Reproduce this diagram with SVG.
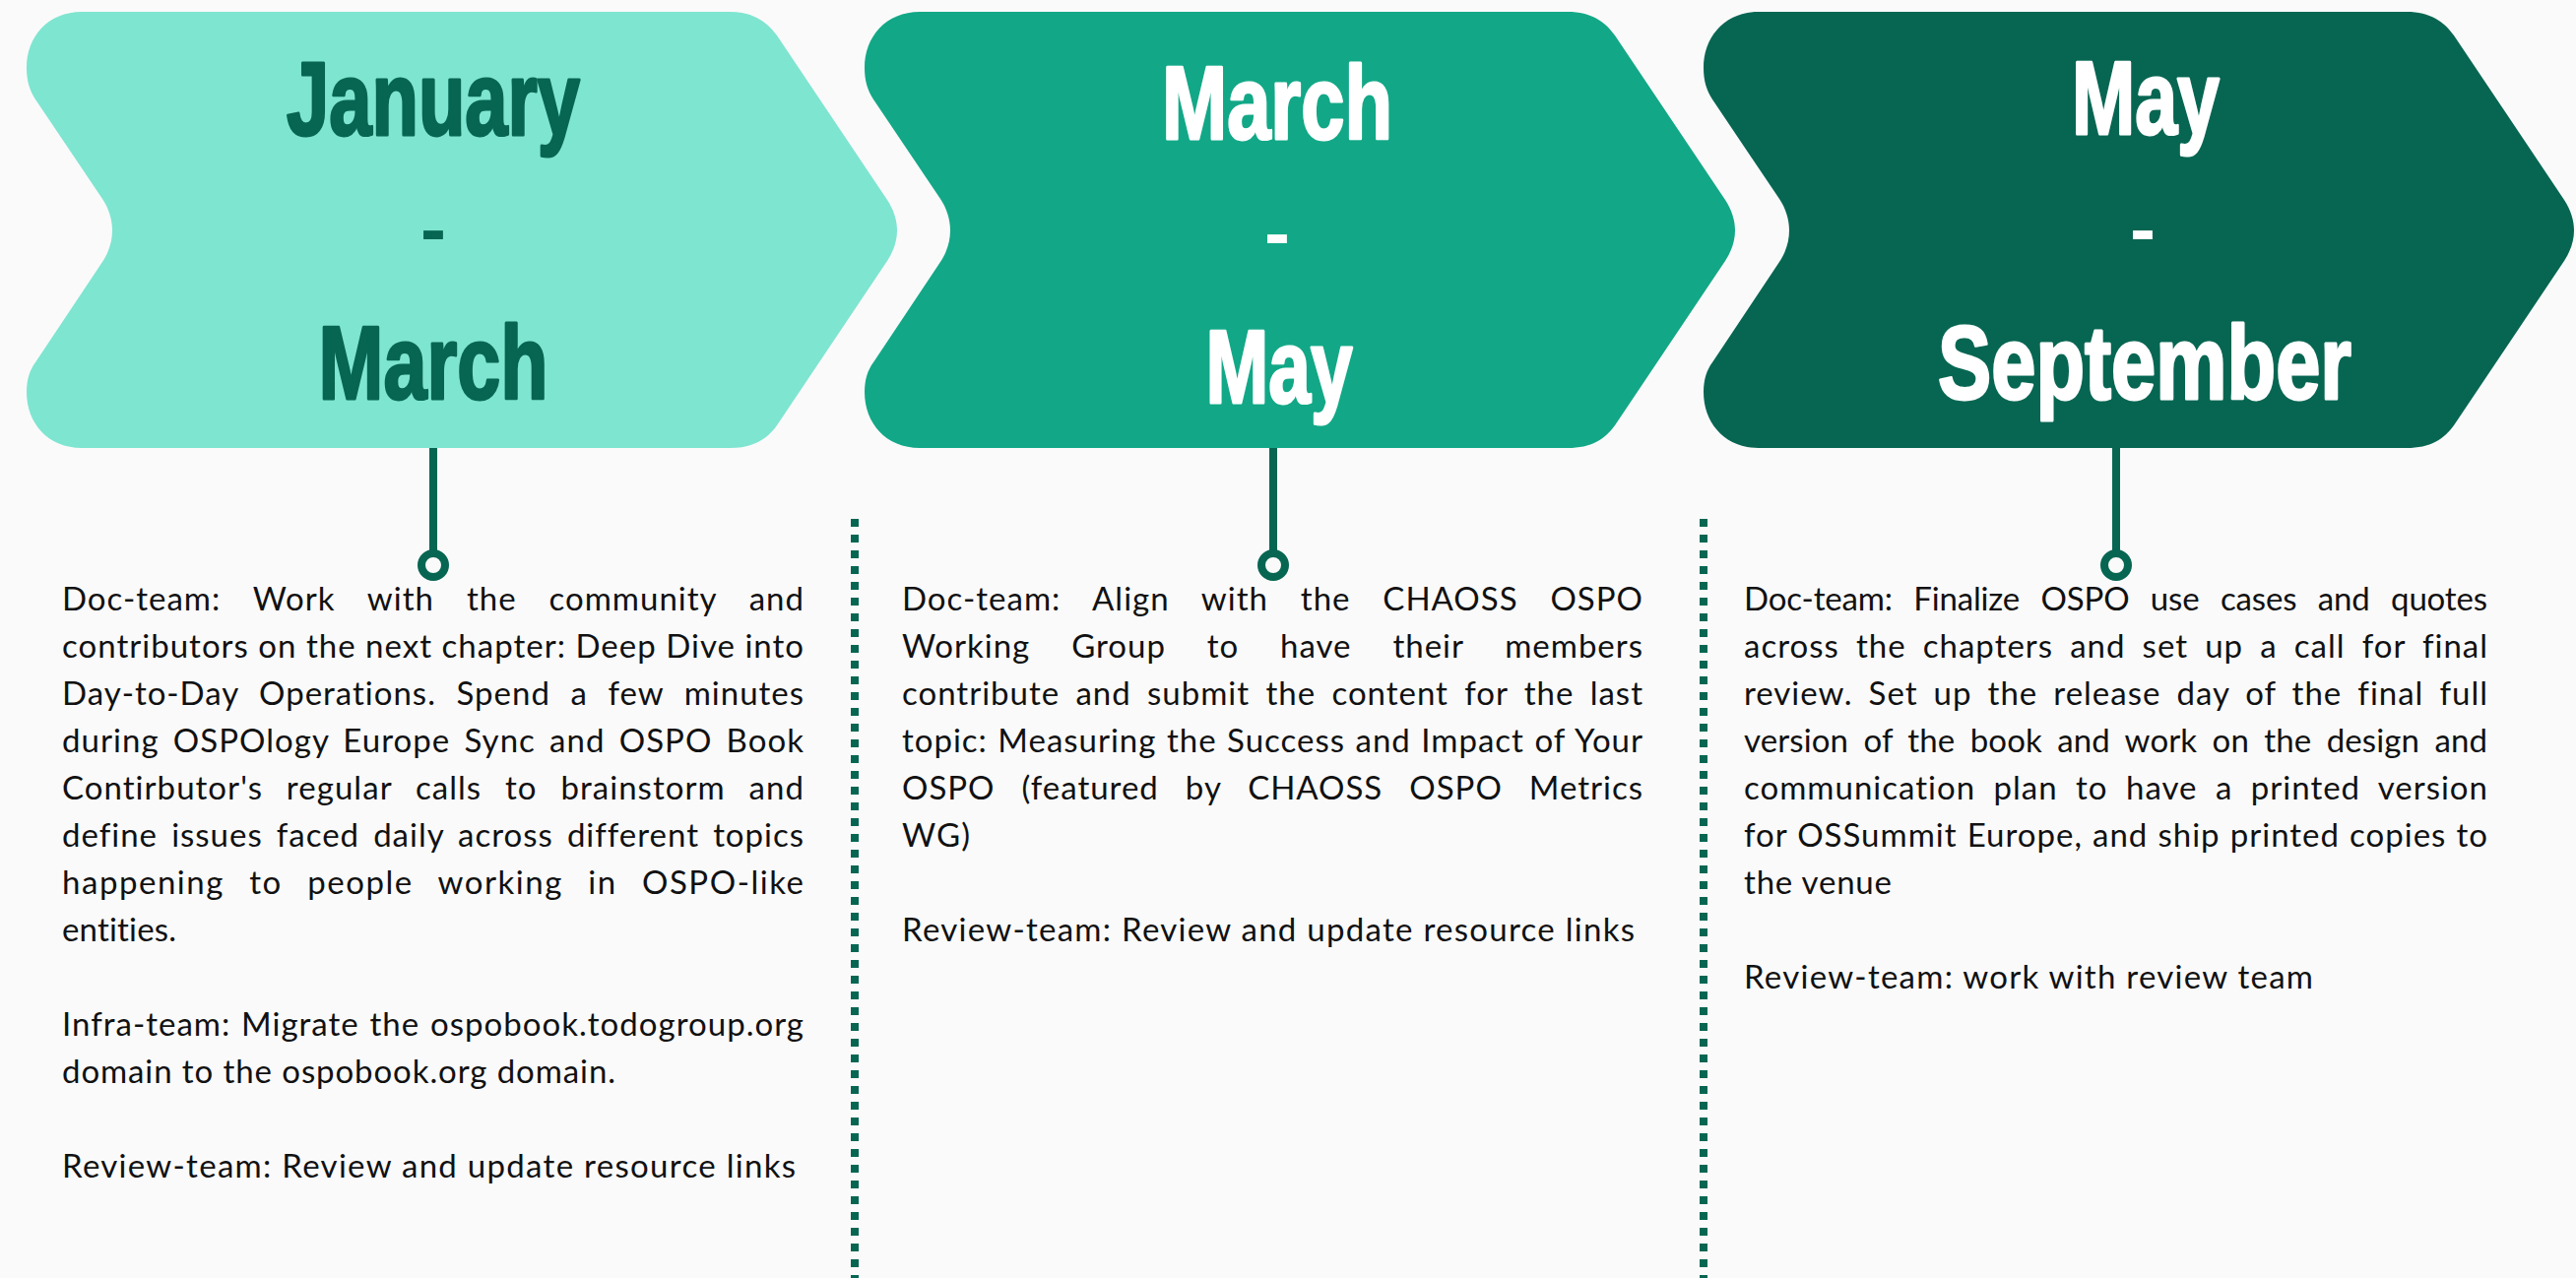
<svg xmlns="http://www.w3.org/2000/svg" width="2616" height="1298" viewBox="0 0 2616 1298">
<defs>
<style>
.bg{fill:#FAFAFA}
.s1{fill:#7EE5D0}.s2{fill:#12A887}.s3{fill:#076652}
.head{font-family:"Liberation Sans",Arial,sans-serif;font-weight:700;font-size:105px;text-anchor:middle;stroke-width:3;stroke-linejoin:round}
.dash{font-family:"Liberation Sans",Arial,sans-serif;font-weight:700;font-size:75px;text-anchor:middle}
.dk{fill:#076652;stroke:#076652}.wh{fill:#FFFFFF;stroke:#FFFFFF}
.dash.dk,.dash.wh{stroke:none}
.body{font-family:Lato,"Noto Sans",sans-serif;font-size:33px;letter-spacing:1px;fill:#111111}
.stem{stroke:#076652;stroke-width:8;fill:none}
.dot{stroke:#076652;stroke-width:8;fill:#FAFAFA}
.sep{stroke:#076652;stroke-width:8;stroke-dasharray:8 8;fill:none}
</style>
<path id="chev" d="M56,0 L714,0 C738,0 752,10 762,24 L874,191 C881,202 884,212 884,222 C884,232 881,242 874,253 L762,420 C752,434 738,443 714,443 L56,443 C22,443 0,418 0,386 C0,374 3,364 9,356 L77,254 C83,245 87,234 87,222 C87,210 83,199 77,190 L9,89 C3,80 0,70 0,57 C0,25 22,0 56,0 Z"/>
</defs>
<rect class="bg" x="0" y="0" width="2616" height="1298"/>

<g id="connectors">
<line class="stem" x1="440" y1="454" x2="440" y2="562"/>
<circle class="dot" cx="440" cy="574" r="12"/>
<line class="stem" x1="1293" y1="454" x2="1293" y2="562"/>
<circle class="dot" cx="1293" cy="574" r="12"/>
<line class="stem" x1="2149" y1="454" x2="2149" y2="562"/>
<circle class="dot" cx="2149" cy="574" r="12"/>
<line class="sep" x1="868" y1="527" x2="868" y2="1300"/>
<line class="sep" x1="1730" y1="527" x2="1730" y2="1300"/>
</g>

<g id="node-jan-mar">
<use href="#chev" class="s1" x="27" y="12"/>
<text class="head dk" x="440" y="137" textLength="298" lengthAdjust="spacingAndGlyphs">January</text>
<text class="dash dk" x="440" y="258" textLength="26" lengthAdjust="spacingAndGlyphs">-</text>
<text class="head dk" x="440" y="405" textLength="233" lengthAdjust="spacingAndGlyphs">March</text>
</g>

<g id="node-mar-may">
<use href="#chev" class="s2" x="878" y="12"/>
<text class="head wh" x="1297" y="141" textLength="234" lengthAdjust="spacingAndGlyphs">March</text>
<text class="dash wh" x="1297" y="262" textLength="26" lengthAdjust="spacingAndGlyphs">-</text>
<text class="head wh" x="1299" y="409" textLength="149" lengthAdjust="spacingAndGlyphs">May</text>
</g>

<g id="node-may-sep">
<use href="#chev" class="s3" x="1730" y="12"/>
<text class="head wh" x="2179" y="136" textLength="150" lengthAdjust="spacingAndGlyphs">May</text>
<text class="dash wh" x="2176" y="258" textLength="26" lengthAdjust="spacingAndGlyphs">-</text>
<text class="head wh" x="2178" y="405" textLength="420" lengthAdjust="spacingAndGlyphs">September</text>
</g>

<g id="text-jan-mar" class="body">
<text x="63" y="620" word-spacing="23.6" textLength="754" lengthAdjust="spacing">Doc-team: Work with the community and</text>
<text x="63" y="668" word-spacing="0" textLength="754" lengthAdjust="spacing">contributors on the next chapter: Deep Dive into</text>
<text x="63" y="716" word-spacing="11.2" textLength="754" lengthAdjust="spacing">Day-to-Day Operations. Spend a few minutes</text>
<text x="63" y="764" word-spacing="4.7" textLength="754" lengthAdjust="spacing">during OSPOlogy Europe Sync and OSPO Book</text>
<text x="63" y="812" word-spacing="14.4" textLength="754" lengthAdjust="spacing">Contirbutor's regular calls to brainstorm and</text>
<text x="63" y="860" word-spacing="4.7" textLength="754" lengthAdjust="spacing">define issues faced daily across different topics</text>
<text x="63" y="908" word-spacing="15.4" textLength="754" lengthAdjust="spacing">happening to people working in OSPO-like</text>
<text x="63" y="956" textLength="117" lengthAdjust="spacing">entities.</text>
<text x="63" y="1052" word-spacing="1.3" textLength="754" lengthAdjust="spacing">Infra-team: Migrate the ospobook.todogroup.org</text>
<text x="63" y="1100" textLength="563" lengthAdjust="spacing">domain to the ospobook.org domain.</text>
<text x="63" y="1196" textLength="746" lengthAdjust="spacing">Review-team: Review and update resource links</text>
</g>

<g id="text-mar-may" class="body">
<text x="916" y="620" word-spacing="23.4" textLength="753" lengthAdjust="spacing">Doc-team: Align with the CHAOSS OSPO</text>
<text x="916" y="668" word-spacing="32.4" textLength="753" lengthAdjust="spacing">Working Group to have their members</text>
<text x="916" y="716" word-spacing="6.9" textLength="753" lengthAdjust="spacing">contribute and submit the content for the last</text>
<text x="916" y="764" word-spacing="1.1" textLength="753" lengthAdjust="spacing">topic: Measuring the Success and Impact of Your</text>
<text x="916" y="812" word-spacing="17.6" textLength="753" lengthAdjust="spacing">OSPO (featured by CHAOSS OSPO Metrics</text>
<text x="916" y="860" textLength="70" lengthAdjust="spacing">WG)</text>
<text x="916" y="956" textLength="745" lengthAdjust="spacing">Review-team: Review and update resource links</text>
</g>

<g id="text-may-sep" class="body">
<text x="1771" y="620" word-spacing="13.2" textLength="756" lengthAdjust="spacing">Doc-team: Finalize OSPO use cases and quotes</text>
<text x="1771" y="668" word-spacing="7.7" textLength="756" lengthAdjust="spacing">across the chapters and set up a call for final</text>
<text x="1771" y="716" word-spacing="6.7" textLength="756" lengthAdjust="spacing">review. Set up the release day of the final full</text>
<text x="1771" y="764" word-spacing="6.8" textLength="756" lengthAdjust="spacing">version of the book and work on the design and</text>
<text x="1771" y="812" word-spacing="9" textLength="756" lengthAdjust="spacing">communication plan to have a printed version</text>
<text x="1771" y="860" word-spacing="0.7" textLength="756" lengthAdjust="spacing">for OSSummit Europe, and ship printed copies to</text>
<text x="1771" y="908" textLength="151" lengthAdjust="spacing">the venue</text>
<text x="1771" y="1004" textLength="579" lengthAdjust="spacing">Review-team: work with review team</text>
</g>
</svg>
